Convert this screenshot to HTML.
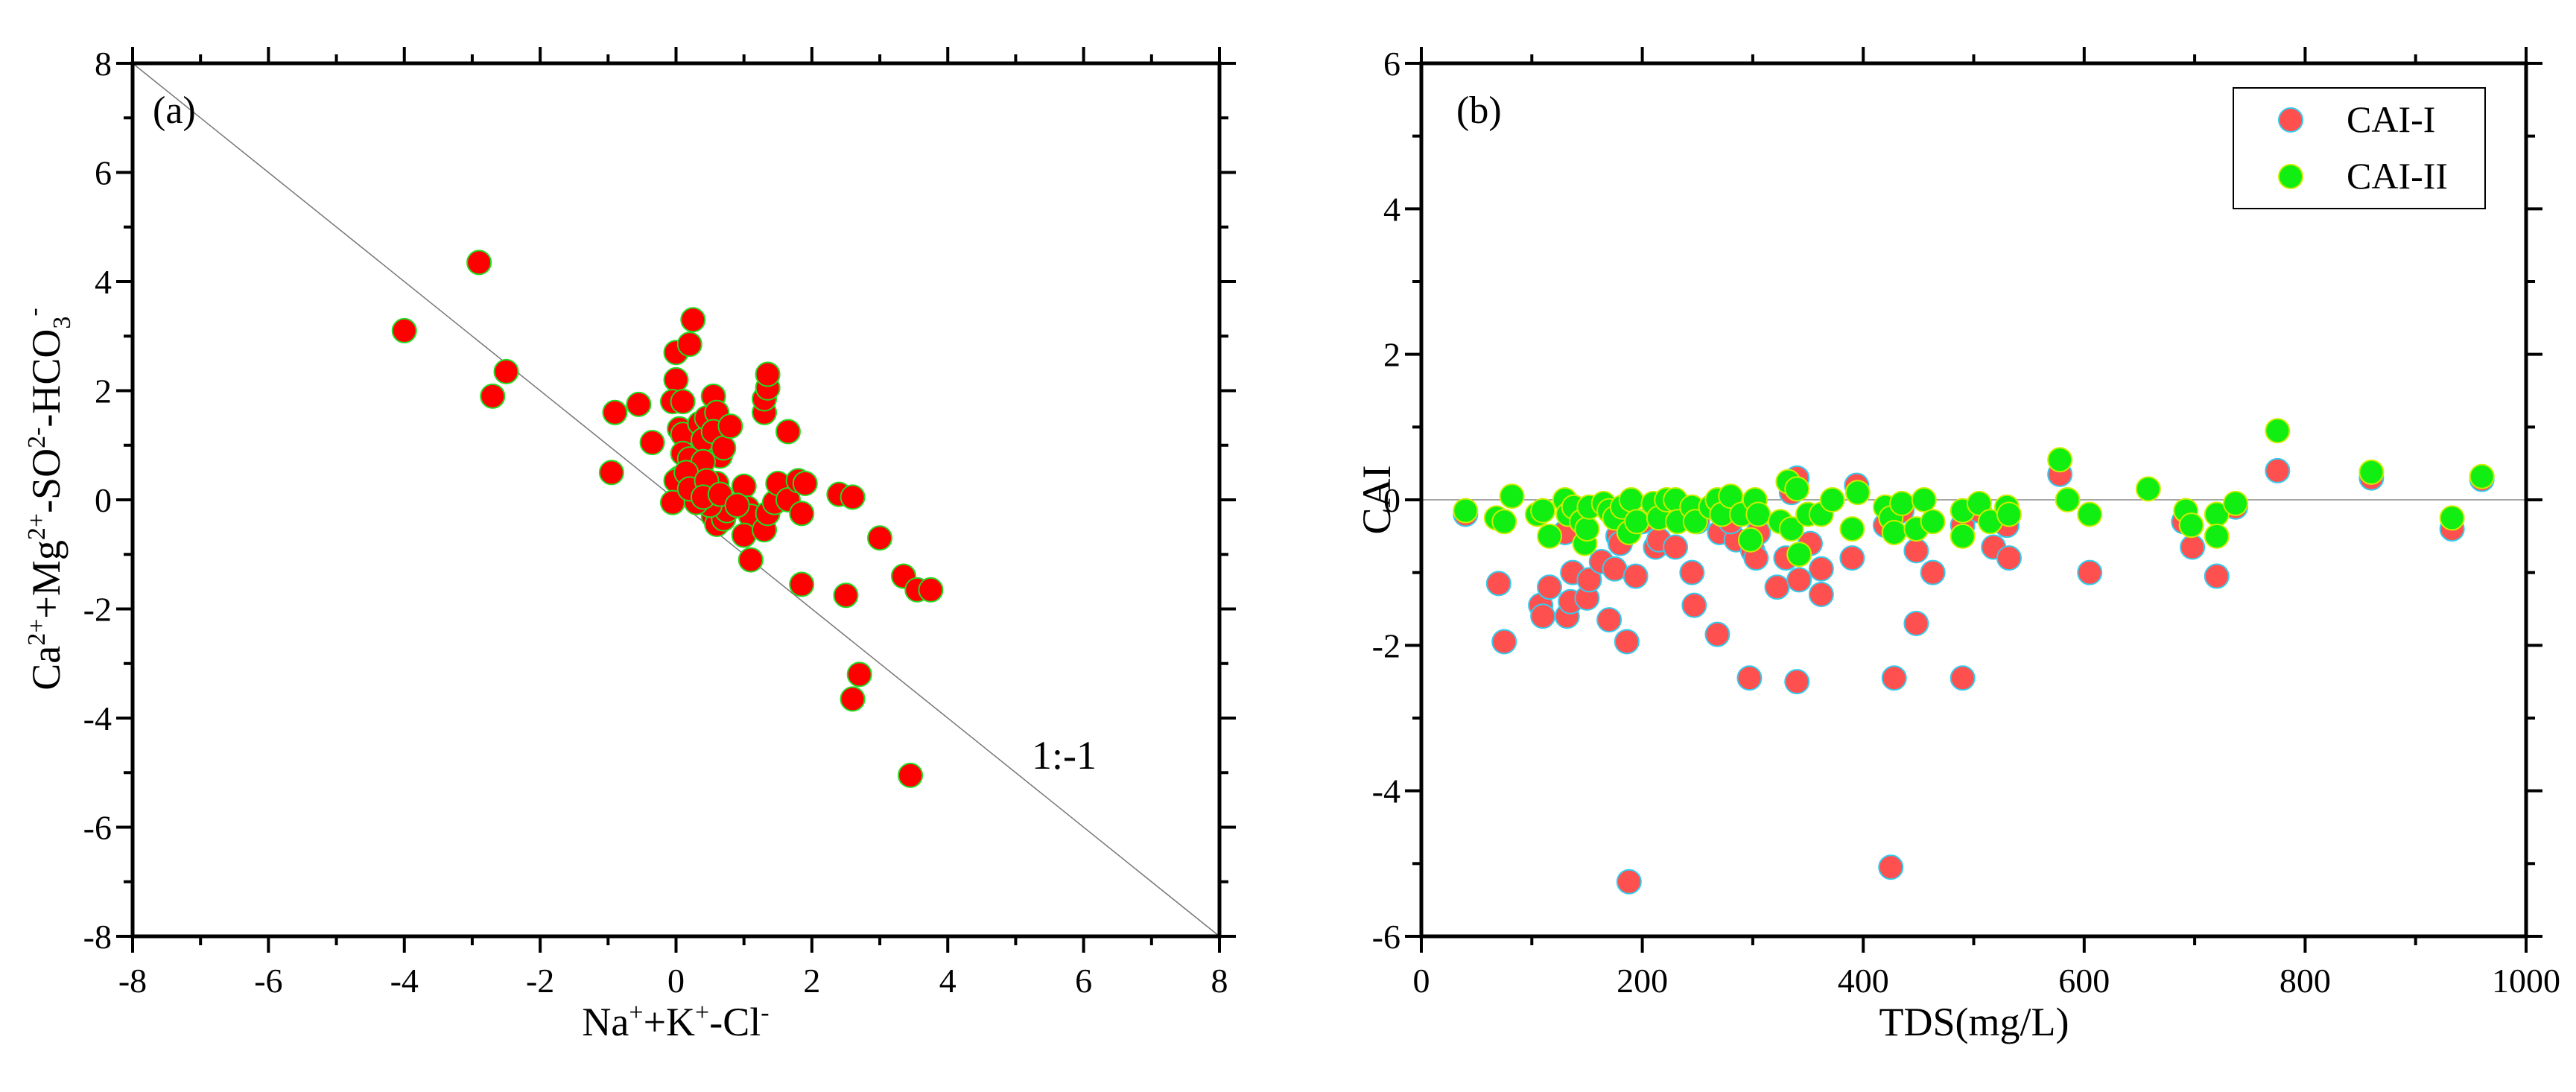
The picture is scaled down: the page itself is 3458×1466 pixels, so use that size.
<!DOCTYPE html>
<html><head><meta charset="utf-8"><style>
body{margin:0;background:#fff}
svg{display:block;font-family:"Liberation Serif",serif}
</style></head><body>
<svg id="s" width="3458" height="1466" viewBox="0 0 3458 1466" xmlns="http://www.w3.org/2000/svg">
<rect width="3458" height="1466" fill="#fff"/>
</svg>
<script>
const aX=[-4.0,-2.9,-2.7,-2.5,-0.95,-0.9,-0.55,-0.35,0,0.25,0.2,0,-0.05,0.1,0.05,0.1,0.1,0.2,0.05,0.0,-0.05,0.25,0.3,0.35,0.4,0.45,0.55,0.6,0.55,0.65,0.7,0.8,0.4,0.5,0.6,0.55,0.6,0.7,0.75,0.5,0.3,1.0,1.05,1.1,1.0,1.1,1.3,1.35,1.45,1.5,1.3,1.3,1.35,1.35,1.65,1.65,1.8,1.9,1.85,1.85,2.4,2.6,2.5,3.0,3.35,3.55,3.75,2.7,2.6,3.45,0.15,0.2,0.45,0.4,0.65,0.9];
const aY=[3.1,4.35,1.9,2.35,0.5,1.6,1.75,1.05,2.7,3.3,2.85,2.2,1.8,1.8,1.3,1.2,0.85,0.75,0.4,0.35,-0.05,0.15,0.3,1.4,1.1,1.5,1.9,1.6,1.25,0.8,0.95,1.35,0.7,0.25,0.3,-0.3,-0.45,-0.35,-0.2,-0.1,-0.05,0.25,-0.15,-0.3,-0.65,-1.1,-0.55,-0.25,-0.05,0.3,1.6,1.85,2.05,2.3,1.25,0.0,0.35,0.3,-0.25,-1.55,0.1,0.05,-1.75,-0.7,-1.4,-1.65,-1.65,-3.2,-3.65,-5.05,0.5,0.2,0.35,0.05,0.1,-0.1];
const b1X=[40,70,75,108,110,116,132,135,137,150,152,163,170,175,178,180,186,188,194,212,215,230,245,247,268,270,285,297,300,303,305,322,330,335,340,340,342,352,362,362,390,394,420,425,428,435,448,448,463,490,490,505,518,530,532,578,605,690,698,720,737,775,860,933,960,140,200,250,280,130];
const b1Y=[-0.2,-1.15,-1.95,-1.45,-1.6,-1.2,-1.6,-1.4,-1.0,-1.35,-1.1,-0.85,-1.65,-0.95,-0.5,-0.6,-1.95,-5.25,-1.05,-0.65,-0.55,-0.65,-1.0,-1.45,-1.85,-0.45,-0.55,-2.45,-0.7,-0.8,-0.45,-1.2,-0.8,0.1,0.3,-2.5,-1.1,-0.6,-0.95,-1.3,-0.8,0.2,-0.35,-5.05,-2.45,-0.15,-0.7,-1.7,-1.0,-2.45,-0.35,-0.15,-0.65,-0.35,-0.8,0.35,-1.0,-0.3,-0.65,-1.05,-0.1,0.4,0.3,-0.4,0.28,-0.4,-0.3,-0.3,-0.3,-0.45];
const b2X=[40,68,75,82,105,110,116,130,133,138,145,148,150,152,165,170,175,182,188,190,195,210,215,222,230,232,245,248,262,268,272,280,290,298,302,305,325,332,335,340,342,350,362,372,390,395,420,425,428,435,448,455,463,490,490,505,515,530,532,578,585,605,658,692,697,720,720,737,775,860,933,960];
const b2Y=[-0.15,-0.25,-0.3,0.05,-0.2,-0.15,-0.5,0.0,-0.2,-0.1,-0.3,-0.6,-0.4,-0.1,-0.05,-0.15,-0.25,-0.1,-0.45,0.0,-0.3,-0.05,-0.25,0.0,0.0,-0.3,-0.1,-0.3,-0.1,0.0,-0.2,0.05,-0.2,-0.55,0.0,-0.2,-0.3,0.25,-0.4,0.15,-0.75,-0.2,-0.2,0.0,-0.4,0.1,-0.1,-0.25,-0.45,-0.05,-0.4,0.0,-0.3,-0.15,-0.5,-0.05,-0.3,-0.1,-0.2,0.55,0.0,-0.2,0.15,-0.15,-0.35,-0.2,-0.5,-0.05,0.95,0.38,-0.25,0.32];
const aTicks=[-8,-6,-4,-2,0,2,4,6,8];
const bXTicks=[0,200,400,600,800,1000];
const bYTicks=[-6,-4,-2,0,2,4,6];

const NS="http://www.w3.org/2000/svg";
const svg=document.getElementById('s');
function el(t,a,p){const e=document.createElementNS(NS,t);for(const k in a)e.setAttribute(k,a[k]);(p||svg).appendChild(e);return e;}
const T=85,B=1257;
const aL=178,aR=1637;
const ax=v=>aL+(v+8)/16*(aR-aL), ay=v=>B-(v+8)/16*(B-T);
const bL=1908,bR=3391;
const bx=v=>bL+v/1000*(bR-bL), by=v=>B-(v+6)/12*(B-T);

function frame(L,R,name){
  const r=el('rect',{x:L,y:T,width:R-L,height:B-T,fill:'none',stroke:'#000','stroke-width':5});
  
  
}
function ticks(L,R,xs,ys,fx,fy,xmin,ymin){
  const g=el('g',{stroke:'#000','stroke-width':4});
  
  
  xs.forEach(v=>{const x=fx(v);el('line',{x1:x,x2:x,y1:B,y2:B+22},g);el('line',{x1:x,x2:x,y1:T,y2:T-22},g);});
  xmin.forEach(v=>{const x=fx(v);el('line',{x1:x,x2:x,y1:B,y2:B+12},g);el('line',{x1:x,x2:x,y1:T,y2:T-12},g);});
  ys.forEach(v=>{const y=fy(v);el('line',{x1:L,x2:L-22,y1:y,y2:y},g);el('line',{x1:R,x2:R+22,y1:y,y2:y},g);});
  ymin.forEach(v=>{const y=fy(v);el('line',{x1:L,x2:L-12,y1:y,y2:y},g);el('line',{x1:R,x2:R+12,y1:y,y2:y},g);});
  xs.forEach(v=>{const t=el('text',{x:fx(v),y:B+75,'font-size':46,'text-anchor':'middle'});t.textContent=v;
    
    });
  ys.forEach(v=>{const t=el('text',{x:L-28,y:fy(v)+16,'font-size':46,'text-anchor':'end'});t.textContent=v;
    
    });
}
const diag=el('line',{x1:ax(-8),y1:ay(8),x2:ax(8),y2:ay(-8),stroke:'#777','stroke-width':1.5});


const ga=el('g',{});


aX.forEach((v,i)=>{const c=el('circle',{cx:ax(v),cy:ay(aY[i]),r:16,fill:'#ff0000',stroke:'#22dd22','stroke-width':2},ga);
  
  });
frame(aL,aR,'plot-frame-a');
ticks(aL,aR,aTicks,aTicks,ax,ay,[-7,-5,-3,-1,1,3,5,7],[-7,-5,-3,-1,1,3,5,7]);
const zl=el('line',{x1:bL,y1:by(0),x2:bR,y2:by(0),stroke:'#888','stroke-width':1.5});


const g1=el('g',{});


b1X.forEach((v,i)=>{const c=el('circle',{cx:bx(v),cy:by(b1Y[i]),r:16,fill:'#ff5050',stroke:'#33ccee','stroke-width':2},g1);
  
  });
const g2=el('g',{});


b2X.forEach((v,i)=>{const c=el('circle',{cx:bx(v),cy:by(b2Y[i]),r:16,fill:'#11ee11',stroke:'#ccee00','stroke-width':2},g2);
  
  });
frame(bL,bR,'plot-frame-b');
ticks(bL,bR,bXTicks,bYTicks,bx,by,[100,300,500,700,900],[-5,-3,-1,1,3,5]);
</script>
<svg style="position:absolute;left:0;top:0" width="3458" height="1466" xmlns="http://www.w3.org/2000/svg" font-family="Liberation Serif, serif">
<text x="205" y="165" font-size="52">(a)</text>
<text x="1385" y="1032" font-size="54">1:-1</text>
<text x="907" y="1390" font-size="54" text-anchor="middle">Na<tspan dy="-20" font-size="34">+</tspan><tspan dy="20">+K</tspan><tspan dy="-20" font-size="34">+</tspan><tspan dy="20">-Cl</tspan><tspan dy="-20" font-size="34">-</tspan></text>
<text transform="translate(80,670) rotate(-90)" font-size="54" text-anchor="middle">Ca<tspan dy="-20" font-size="34">2+</tspan><tspan dy="20">+Mg</tspan><tspan dy="-20" font-size="34">2+</tspan><tspan dy="20">-SO</tspan><tspan dy="-20" font-size="34">2-</tspan><tspan dy="20">-HCO</tspan><tspan dy="14" font-size="34">3</tspan><tspan dy="-38" font-size="34">-</tspan></text>
<text x="1955" y="165" font-size="52">(b)</text>
<text x="2650" y="1390" font-size="54" text-anchor="middle">TDS(mg/L)</text>
<text transform="translate(1866,671) rotate(-90)" font-size="54" text-anchor="middle">CAI</text>
<g>
<rect x="2998" y="118" width="338" height="162" fill="#fff" stroke="#000" stroke-width="2"/>
<circle cx="3075" cy="161" r="16" fill="#ff5050" stroke="#33ccee" stroke-width="2"/>
<text x="3150" y="177" font-size="50">CAI-I</text>
<circle cx="3075" cy="237" r="16" fill="#11ee11" stroke="#ccee00" stroke-width="2"/>
<text x="3150" y="253" font-size="50">CAI-II</text>
</g>
</svg>
</body></html>
